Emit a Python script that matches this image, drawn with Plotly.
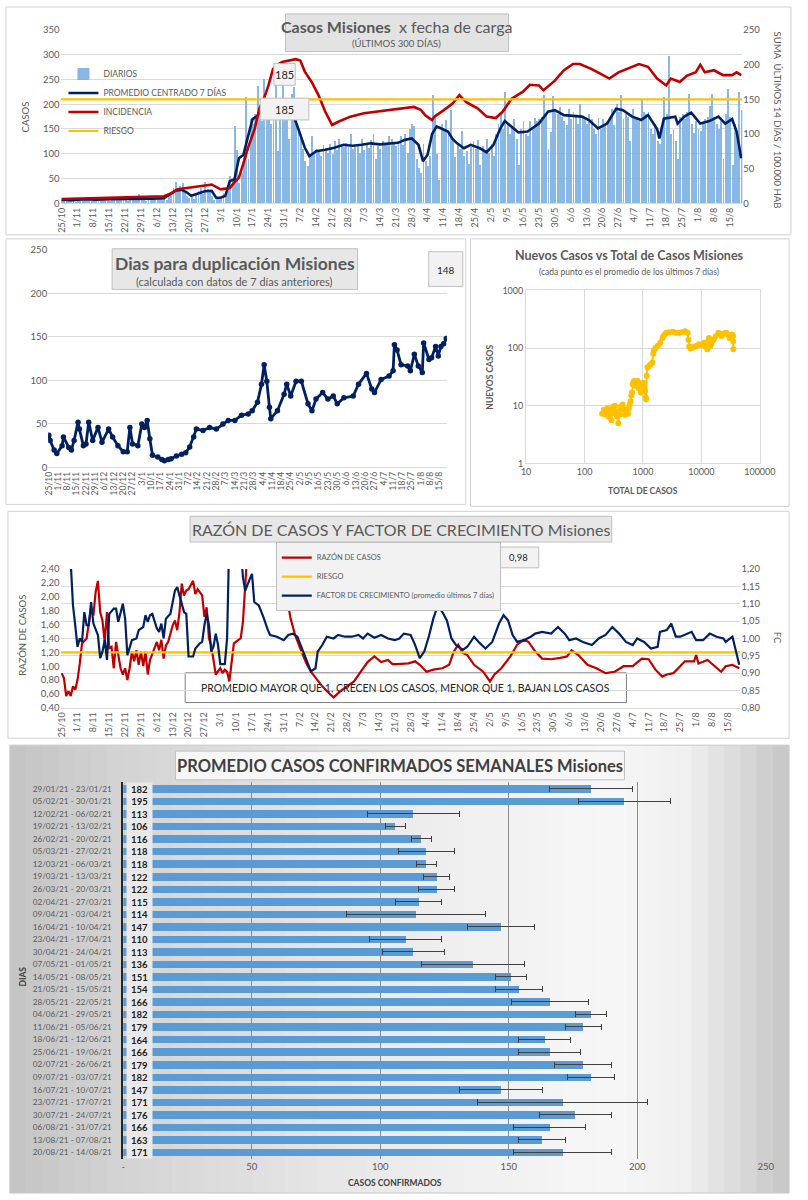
import plotly.graph_objects as go
import pandas as pd
import numpy as np

# ---------------- DATA ----------------
START = "2020-10-25"
N_DAYS = 300

# casos diarios (por día desde 25/10/2020)
diarios = [
    7, 9, 4, 6, 8, 5, 3,
    9, 11, 6, 8, 12, 7, 5,
    10, 6, 4, 9, 13, 8, 10,
    5, 7, 12, 9, 6, 8, 14,
    7, 5, 9, 11, 6, 8, 18,
    7, 9, 5, 10, 12, 8, 6,
    11, 9, 14, 10, 7, 18, 22,
    30, 42, 26, 35, 40, 20, 14,
    10, 12, 8, 20, 25, 30, 18,
    42, 28, 26, 15, 6, 10, 12,
    8, 20, 14, 30, 55, 45, 155,
    108, 40, 60, 100, 215, 90, 170,
    160, 180, 236, 190, 165, 250, 200,
    175, 160, 210, 245, 105, 179, 240,
    170, 200, 130, 220, 235, 170, 150,
    140, 110, 85, 75, 95, 136, 100,
    110, 105, 95, 118, 112, 102, 120,
    100, 125, 108, 130, 115, 114, 122,
    118, 140, 110, 115, 120, 101, 130,
    108, 118, 112, 128, 140, 90, 115,
    110, 125, 118, 122, 135, 129, 120,
    115, 125, 135, 118, 140, 101, 150,
    160, 155, 90, 70, 60, 120, 85,
    75, 95, 218, 178, 100, 47, 160,
    150, 168, 140, 188, 130, 93, 120,
    110, 146, 95, 105, 80, 114, 125,
    110, 128, 78, 115, 105, 130, 102,
    120, 95, 140, 160, 185, 150, 225,
    160, 140, 155, 170, 130, 77, 150,
    165, 140, 135, 165, 150, 173, 165,
    170, 175, 218, 180, 110, 144, 216,
    185, 180, 195, 175, 165, 158, 190,
    170, 185, 175, 160, 201, 172, 175,
    160, 180, 170, 150, 140, 173, 150,
    170, 155, 165, 175, 190, 157, 200,
    185, 218, 170, 180, 175, 125, 190,
    170, 175, 165, 208, 185, 181, 185,
    150, 140, 160, 125, 120, 149, 214,
    180, 298, 140, 150, 125, 90, 175,
    180, 170, 185, 221, 160, 141, 165,
    150, 145, 160, 170, 175, 197, 221,
    175, 160, 150, 165, 90, 180, 231,
    175, 78, 160, 140, 225, 188,
]

# promedio centrado 7 días (día, valor)
prom_dia = [0, 5, 10, 15, 20, 25, 30, 35, 40, 45, 48, 50, 53, 55, 57, 59, 61, 63, 66, 68,
            70, 72, 74, 76, 78, 80, 82, 84, 86, 88, 91, 94, 97, 100, 103, 105, 107, 109, 112, 116,
            120, 124, 128, 132, 136, 140, 144, 148, 151, 154, 157, 159, 161, 163, 165, 168, 170, 172, 174, 177,
            180, 184, 187, 190, 193, 195, 198, 201, 205, 210, 214, 217, 221, 225, 229, 232, 236, 240, 244, 247,
            251, 255, 258, 262, 263, 265, 270, 271, 274, 277, 281, 285, 289, 292, 295, 297, 299]
prom_val = [7, 6, 8, 7, 8, 8, 9, 8, 9, 10, 18, 25, 27, 22, 15, 18, 21, 24, 25, 11,
            11, 15, 45, 48, 91, 98, 135, 170, 176, 190, 188, 186, 190, 192, 165, 138, 112, 95, 105, 108,
            112, 118, 116, 118, 121, 119, 121, 122, 128, 131, 118, 85, 98, 140, 155, 148, 145, 130, 121, 111,
            118, 111, 103, 118, 151, 166, 155, 143, 145, 161, 185, 188, 178, 177, 175, 168, 151, 161, 191, 188,
            175, 168, 178, 150, 131, 171, 175, 161, 175, 183, 161, 166, 175, 161, 170, 145, 91]

# incidencia: suma últimos 14 días / 100.000 hab (eje derecho)
inc_dia = [0, 10, 20, 30, 40, 45, 48, 51, 55, 58, 61, 64, 66, 68, 70, 72, 74, 76, 78, 80,
           82, 85, 87, 89, 91, 93, 95, 97, 100, 103, 105, 107, 110, 113, 116, 119, 122, 127, 133, 138,
           144, 150, 155, 158, 160, 163, 164, 168, 172, 175, 178, 183, 187, 191, 194, 198, 203, 206, 210, 212,
           217, 221, 225, 228, 233, 237, 241, 245, 250, 254, 258, 262, 266, 268, 272, 275, 279, 281, 283, 287,
           291, 295, 297, 299]
inc_val = [6, 7, 8, 8, 9, 10, 14, 20, 22, 23, 25, 26, 27, 23, 20, 21, 22, 30, 37, 58,
           80, 108, 137, 151, 170, 194, 200, 204, 206, 208, 206, 190, 175, 156, 132, 113, 118, 125, 130, 132,
           134, 137, 139, 135, 127, 120, 125, 134, 144, 156, 146, 137, 125, 123, 132, 151, 161, 171, 170, 163,
           177, 192, 201, 201, 194, 187, 180, 189, 196, 201, 197, 180, 170, 180, 175, 184, 189, 200, 189, 192,
           185, 185, 189, 185]
RIESGO_INC = 150
PICO_LABELS = ["185", "185"]

# días para duplicación
dup_dia = [0, 1, 4, 6, 10, 11, 15, 17, 19, 22, 23, 26, 28, 30, 33, 37, 40, 45, 48, 52,
           56, 59, 61, 63, 67, 70, 72, 74, 76, 78, 82, 85, 87, 90, 92, 96, 100, 103, 106, 109,
           111, 116, 121, 126, 131, 135, 140, 145, 150, 153, 157, 160, 162, 164, 166, 167, 172, 177, 179, 182,
           186, 190, 195, 198, 201, 206, 210, 214, 217, 222, 229, 233, 239, 243, 245, 250, 256, 259, 260, 262,
           265, 270, 272, 275, 278, 281, 282, 286, 288, 291, 293, 295, 297, 299]
dup_val = [37, 31, 20, 16, 25, 35, 23, 20, 31, 52, 44, 25, 27, 52, 31, 46, 29, 44, 35, 25,
           18, 18, 46, 27, 25, 50, 46, 54, 33, 14, 12, 9, 7.6, 9, 10, 13, 15, 17, 23.5, 35,
           44, 42.5, 46, 44, 50, 54, 54, 60, 61.5, 65, 75, 95.6, 118, 99, 69, 56, 65, 84, 95.6, 82,
           99, 99, 73, 65, 78.5, 86, 78.5, 82, 73, 80, 82, 95.6, 108, 90, 86, 101, 105, 111, 141, 135,
           118, 116.5, 111, 130, 116.5, 109, 143, 124, 126, 139, 128, 139, 142, 148]
DUP_ULTIMO = "148"

# nuevos casos vs total de casos (promedio 7 días)
total_casos = [200, 215, 230, 245, 260, 275, 290, 300, 315, 330, 345, 360, 378, 395, 410, 430, 450, 470, 490, 510,
               530, 553, 570, 590, 615, 633, 650, 667, 690, 710, 740, 770, 810, 850, 880, 920, 960, 1000, 1043, 1080,
               1112, 1130, 1157, 1190, 1250, 1330, 1440, 1500, 1530, 1630, 1800, 1976, 2150, 2250, 2400, 2500, 2800, 3230, 3700, 4240,
               4700, 5180, 5500, 5810, 6000, 6200, 6500, 7060, 7600, 8300, 9170, 10000, 11000, 11800, 12600, 12900, 13500, 14100, 14800, 15500,
               16200, 17500, 19500, 20500, 22100, 23500, 25000, 26800, 28500, 30500, 32000, 33500, 34800, 35000, 35200]
nuevos_casos = [7.3, 8.5, 7, 9, 6.5, 8, 5.6, 9.5, 7.5, 10, 8, 6.5, 5, 7, 9.5, 8.5, 10.5, 8.8, 7, 7.5,
                8, 7.3, 9, 10.5, 12, 15, 17, 23.7, 26, 27, 25, 22, 27, 20, 24, 17, 22, 25, 23.7, 18,
                14, 13, 33, 46, 48, 52, 56, 80, 89, 100, 110, 124, 150, 162, 175, 184, 188, 192, 185, 184,
                190, 196, 190, 184, 140, 108, 98, 101, 105, 110, 116, 112, 124, 105, 95, 130, 150, 108, 120, 135,
                141, 160, 184, 175, 162, 175, 180, 184, 170, 150, 165, 172, 162, 130, 95]

# razón de casos (eje izq.)
razon_dia = [0, 1, 2, 3, 4, 5, 6, 7, 8, 9, 11, 12, 13, 14, 15, 16, 17, 18, 19, 20,
             21, 22, 23, 24, 25, 26, 27, 28, 29, 30, 31, 32, 33, 34, 35, 36, 37, 38, 39, 41,
             42, 43, 44, 45, 46, 47, 49, 50, 51, 52, 53, 54, 55, 56, 58, 59, 60, 62, 63, 64,
             65, 66, 67, 68, 70, 71, 72, 73, 74, 75, 76, 78, 79, 80, 81, 83, 86, 90, 95, 98,
             99, 100, 101, 103, 105, 108, 110, 113, 115, 118, 120, 123, 126, 129, 132, 135, 138, 141, 144, 146,
             148, 153, 156, 158, 161, 164, 168, 171, 173, 175, 177, 179, 182, 186, 189, 191, 194, 198, 201, 204,
             206, 209, 212, 216, 220, 223, 225, 228, 232, 236, 240, 244, 248, 252, 256, 259, 262, 265, 267, 270,
             275, 279, 280, 281, 285, 289, 291, 293, 296, 299]
razon_val = [0.90, 0.83, 0.57, 0.64, 0.57, 0.71, 0.66, 0.80, 1.04, 1.33, 1.40, 1.64, 1.85, 1.73, 2.07, 2.23, 1.78, 1.66, 1.35, 1.78,
             1.26, 1.28, 0.97, 1.35, 1.16, 0.97, 0.88, 0.97, 0.80, 0.97, 1.21, 1.07, 1.23, 1.02, 1.21, 1.00, 1.21, 0.88, 1.09, 1.28,
             1.35, 1.23, 1.38, 1.11, 1.30, 1.35, 1.59, 1.66, 1.52, 1.78, 2.19, 2.02, 2.09, 2.11, 2.23, 2.04, 2.11, 2.02, 1.71, 1.85,
             1.40, 1.30, 1.11, 0.88, 0.97, 0.90, 0.95, 0.92, 0.78, 1.11, 1.33, 1.38, 1.40, 1.64, 2.60, 3.20, 3.50, 3.40, 3.10, 2.70,
             2.40, 1.88, 1.69, 1.45, 1.28, 1.04, 0.92, 0.80, 0.71, 0.61, 0.55, 0.64, 0.71, 0.78, 0.92, 1.06, 1.14, 1.06, 1.09, 1.03,
             1.03, 1.04, 1.07, 1.02, 0.92, 0.95, 0.97, 1.02, 1.21, 1.31, 1.19, 1.16, 1.02, 0.92, 0.78, 0.88, 0.97, 1.14, 1.31, 1.38,
             1.35, 1.21, 1.11, 1.10, 1.12, 1.14, 1.23, 1.16, 1.02, 0.97, 0.90, 0.92, 1.00, 1.00, 1.11, 1.10, 0.95, 0.85, 0.88, 0.90,
             1.07, 1.07, 1.16, 1.04, 1.09, 0.97, 0.92, 1.00, 1.02, 0.97]
RIESGO_RAZON = 1.2

# factor de crecimiento (eje der.)
fc_dia = [0, 2, 4, 5, 6, 7, 8, 9, 10, 11, 12, 13, 14, 16, 17, 18, 19, 20, 21, 23,
          24, 25, 27, 28, 29, 30, 31, 33, 34, 36, 37, 38, 39, 40, 42, 43, 44, 45, 46, 48,
          49, 50, 51, 53, 54, 55, 56, 58, 59, 61, 62, 63, 64, 65, 66, 67, 68, 69, 70, 72,
          73, 74, 76, 78, 79, 80, 81, 82, 83, 84, 85, 87, 88, 89, 91, 92, 95, 98, 100, 102,
          104, 106, 108, 110, 112, 113, 115, 117, 120, 122, 125, 128, 131, 133, 135, 138, 141, 144, 147, 149,
          151, 154, 156, 158, 160, 162, 164, 166, 168, 170, 172, 174, 177, 179, 182, 184, 187, 190, 193, 195,
          197, 199, 201, 204, 207, 209, 212, 216, 219, 222, 224, 227, 230, 234, 237, 240, 243, 246, 249, 252,
          254, 257, 260, 263, 264, 267, 269, 271, 273, 276, 278, 280, 283, 286, 289, 292, 293, 296, 299]
fc_val = [1.45, 1.38, 1.22, 1.095, 1.038, 0.976, 1.0, 0.99, 1.076, 1.038, 1.038, 1.105, 1.043, 1.01, 0.943, 0.962, 0.995, 0.938, 1.071, 1.086,
          1.086, 1.048, 1.1, 1.057, 0.952, 0.971, 0.995, 1.0, 1.024, 1.033, 1.067, 1.048, 1.067, 1.071, 1.029, 1.019, 1.043, 1.0, 1.057, 1.071,
          1.105, 1.138, 1.148, 1.105, 1.076, 1.071, 0.948, 0.948, 0.971, 0.986, 0.99, 1.038, 1.071, 1.038, 0.962, 0.976, 1.014, 0.981, 0.926, 0.926,
          1.0, 1.3, 1.4, 1.35, 1.25, 1.176, 1.138, 1.152, 1.171, 1.186, 1.105, 1.095, 1.081, 1.062, 1.024, 1.01, 1.005, 0.995, 1.01, 1.014,
          1.005, 0.971, 0.933, 0.905, 0.914, 0.962, 0.981, 1.005, 1.0, 1.01, 1.005, 1.005, 1.01, 1.0, 1.014, 1.002, 1.01, 1.0, 0.995, 1.0,
          1.014, 1.01, 0.981, 0.943, 0.962, 1.005, 1.057, 1.095, 1.076, 1.052, 1.0, 0.981, 0.967, 0.976, 1.005, 0.99, 0.971, 0.99, 1.043, 1.067,
          1.052, 1.01, 0.99, 0.995, 1.005, 1.014, 1.019, 1.014, 1.033, 1.014, 0.995, 1.0, 0.99, 0.981, 1.0, 1.01, 1.033, 1.014, 0.99, 0.981,
          1.0, 0.99, 0.971, 0.976, 1.019, 1.024, 1.043, 1.005, 1.005, 1.014, 1.019, 0.995, 0.995, 1.014, 1.005, 1.0, 0.99, 1.005, 0.924]
FC_ULTIMO = "0,98"

# promedio semanal de casos confirmados
semanas = ["29/01/21 - 23/01/21", "05/02/21 - 30/01/21", "12/02/21 - 06/02/21", "19/02/21 - 13/02/21",
           "26/02/21 - 20/02/21", "05/03/21 - 27/02/21", "12/03/21 - 06/03/21", "19/03/21 - 13/03/21",
           "26/03/21 - 20/03/21", "02/04/21 - 27/03/21", "09/04/21 - 03/04/21", "16/04/21 - 10/04/21",
           "23/04/21 - 17/04/21", "30/04/21 - 24/04/21", "07/05/21 - 01/05/21", "14/05/21 - 08/05/21",
           "21/05/21 - 15/05/21", "28/05/21 - 22/05/21", "04/06/21 - 29/05/21", "11/06/21 - 05/06/21",
           "18/06/21 - 12/06/21", "25/06/21 - 19/06/21", "02/07/21 - 26/06/21", "09/07/21 - 03/07/21",
           "16/07/21 - 10/07/21", "23/07/21 - 17/07/21", "30/07/21 - 24/07/21", "06/08/21 - 31/07/21",
           "13/08/21 - 07/08/21", "20/08/21 - 14/08/21"]
prom_sem = [182, 195, 113, 106, 116, 118, 118, 122, 122, 115, 114, 147, 110, 113, 136,
            151, 154, 166, 182, 179, 164, 166, 179, 182, 147, 171, 176, 166, 163, 171]
err_sem = [16, 18, 18, 4, 4, 11, 4, 5, 7, 9, 27, 13, 14, 12, 20,
           6, 9, 15, 6, 7, 10, 12, 11, 9, 16, 33, 14, 14, 9, 19]
ticks_sem_val = [0, 50, 100, 150, 200, 250]
ticks_sem_txt = ["-", "50", "100", "150", "200", "250"]

# ---------------- HELPERS ----------------
W, H = 808, 1200
FONT = "Lato"
GRAY = "#595959"
NAVY = "#002060"
RED = "#C00000"
YEL = "#FFC000"
BLUE = "#5B9BD5"
BAR_LIGHT = "#74ACDE"


def PX(x):
    return x / W


def PY(y):
    return 1 - y / H


fechas = pd.date_range(START, periods=N_DAYS, freq="D")
day = pd.Timedelta(days=1)


def to_dates(ds):
    return [fechas[0] + pd.Timedelta(days=d) for d in ds]


date_range_full = [fechas[0] - 0.5 * day, fechas[-1] + 0.5 * day]

fig = go.Figure()

# ----- Panel 1 -----
fig.add_trace(go.Bar(x=fechas, y=diarios, name="DIARIOS", marker=dict(color=BAR_LIGHT, line=dict(width=0)),
                     width=0.38 * 86400000, opacity=0.85, xaxis="x", yaxis="y", legend="legend"))
fig.add_trace(go.Scatter(x=to_dates(prom_dia), y=prom_val, name="PROMEDIO CENTRADO 7 DÍAS", mode="lines",
                         line=dict(color=NAVY, width=2.6), xaxis="x", yaxis="y", legend="legend"))
fig.add_trace(go.Scatter(x=to_dates(inc_dia), y=inc_val, name="INCIDENCIA", mode="lines",
                         line=dict(color=RED, width=2.6), xaxis="x", yaxis="y2", legend="legend"))
fig.add_trace(go.Scatter(x=[fechas[0] - 0.5 * day, fechas[-1] + 0.5 * day], y=[RIESGO_INC, RIESGO_INC],
                         name="RIESGO", mode="lines", line=dict(color=YEL, width=2.2),
                         xaxis="x", yaxis="y2", legend="legend"))

# ----- Panel 2 left -----
fig.add_trace(go.Scatter(x=to_dates(dup_dia), y=dup_val, mode="lines+markers", showlegend=False,
                         line=dict(color=NAVY, width=2.8), marker=dict(color=NAVY, size=5.5),
                         xaxis="x2", yaxis="y3"))

# ----- Panel 2 right -----
fig.add_trace(go.Scatter(x=total_casos, y=nuevos_casos, mode="lines+markers", showlegend=False,
                         line=dict(color=YEL, width=2), marker=dict(color=YEL, size=6),
                         xaxis="x3", yaxis="y4"))

# ----- Panel 3 -----
fig.add_trace(go.Scatter(x=to_dates(razon_dia), y=razon_val, name="RAZÓN DE CASOS", mode="lines",
                         line=dict(color=RED, width=2.2), xaxis="x4", yaxis="y5", legend="legend2"))
fig.add_trace(go.Scatter(x=[fechas[0] - 0.5 * day, fechas[-1] + 0.5 * day], y=[RIESGO_RAZON, RIESGO_RAZON],
                         name="RIESGO", mode="lines", line=dict(color=YEL, width=2.2),
                         xaxis="x4", yaxis="y5", legend="legend2"))
fig.add_trace(go.Scatter(x=to_dates(fc_dia), y=fc_val, name="FACTOR DE CRECIMIENTO (promedio últimos 7 días)",
                         mode="lines", line=dict(color=NAVY, width=2.2), xaxis="x4", yaxis="y6", legend="legend2"))

# ----- Panel 4 -----
fig.add_trace(go.Bar(x=prom_sem, y=semanas, orientation="h", showlegend=False,
                     marker=dict(color=BLUE, line=dict(width=0)), width=0.6,
                     error_x=dict(type="data", array=err_sem, color="#404040", thickness=1, width=3),
                     xaxis="x5", yaxis="y7"))

tickf = dict(family=FONT, size=9, color=GRAY)

layout = dict(
    width=W, height=H, margin=dict(l=0, r=0, t=0, b=0), autosize=False,
    paper_bgcolor="white", plot_bgcolor="rgba(0,0,0,0)",
    font=dict(family=FONT, color=GRAY), separators=",.",
    bargap=0,
    # panel 1
    xaxis=dict(type="date", domain=[PX(57), PX(757)], range=date_range_full, anchor="y",
               tickformat="%-d/%-m", tick0=START, dtick=7 * 86400000, tickangle=-90,
               tickfont=tickf, showgrid=False, showline=True, linecolor="#d9d9d9", ticks=""),
    yaxis=dict(domain=[PY(199), PY(24.3)], range=[0, 350], dtick=50, gridcolor="#d9d9d9",
               tickfont=dict(family=FONT, size=9.5, color=GRAY), zeroline=False, anchor="x"),
    yaxis2=dict(overlaying="y", side="right", range=[0, 250], dtick=50, showgrid=False,
                tickfont=dict(family=FONT, size=9.5, color=GRAY), zeroline=False, anchor="x"),
    # panel 2 left
    xaxis2=dict(type="date", domain=[PX(44.3), PX(453.7)], range=date_range_full, anchor="y3",
                tickformat="%-d/%-m", tick0=START, dtick=7 * 86400000, tickangle=-90,
                tickfont=dict(family=FONT, size=8.5, color=GRAY), showgrid=False, showline=True,
                linecolor="#d9d9d9", ticks=""),
    yaxis3=dict(domain=[PY(465.7), PY(246)], range=[0, 250], dtick=50, gridcolor="#d9d9d9",
                tickfont=dict(family=FONT, size=9.5, color=GRAY), zeroline=False, anchor="x2"),
    # panel 2 right
    xaxis3=dict(type="log", domain=[PX(535), PX(775)], range=[1, 5], dtick=1, tickformat="d",
                anchor="y4", gridcolor="#d9d9d9", showline=True, mirror=True, linecolor="#d9d9d9",
                tickfont=dict(family=FONT, size=9, color=GRAY), ticks=""),
    yaxis4=dict(type="log", domain=[PY(461.7), PY(287)], range=[0, 3], dtick=1, tickformat="d",
                anchor="x3", gridcolor="#d9d9d9", showline=True, mirror=True, linecolor="#d9d9d9",
                tickfont=dict(family=FONT, size=9, color=GRAY), ticks=""),
    # panel 3
    xaxis4=dict(type="date", domain=[PX(57), PX(755)], range=date_range_full, anchor="y5",
                tickformat="%-d/%-m", tick0=START, dtick=7 * 86400000, tickangle=-90,
                tickfont=tickf, showgrid=False, showline=True, linecolor="#d9d9d9", ticks=""),
    yaxis5=dict(domain=[PY(708.3), PY(568.3)], range=[0.4, 2.4], dtick=0.2, tickformat=".2f",
                showgrid=False, zeroline=False, anchor="x4",
                tickfont=dict(family=FONT, size=9.5, color=GRAY)),
    yaxis6=dict(overlaying="y5", side="right", range=[0.8, 1.2], dtick=0.05, tickformat=".2f",
                gridcolor="#d9d9d9", zeroline=False, anchor="x4",
                tickfont=dict(family=FONT, size=9.5, color=GRAY)),
    # panel 4
    xaxis5=dict(domain=[PX(121.3), PX(781)], range=[0, 250], anchor="y7", tickvals=ticks_sem_val,
                ticktext=ticks_sem_txt, gridcolor="#8c8c8c", gridwidth=1, zeroline=False,
                tickfont=dict(family=FONT, size=9.5, color=GRAY), ticks=""),
    yaxis7=dict(domain=[PY(1164), PY(783)], autorange="reversed", type="category", anchor="x5",
                showline=True, linecolor="#262626", linewidth=1.6, ticks="", ticklabelstandoff=8,
                tickfont=dict(family=FONT, size=8.2, color=GRAY)),
    legend=dict(x=PX(60), y=PY(54), xanchor="left", yanchor="top", bgcolor="rgba(0,0,0,0)",
                font=dict(family=FONT, size=8.5, color=GRAY), itemwidth=30, tracegroupgap=0,
                traceorder="normal"),
    legend2=dict(x=PX(278), y=PY(541), xanchor="left", yanchor="top", bgcolor="#f2f2f2",
                 bordercolor="#bfbfbf", borderwidth=1, font=dict(family=FONT, size=7.5, color=GRAY),
                 itemwidth=30, tracegroupgap=0, traceorder="normal"),
)

shapes = []


def rect(x0, y0, x1, y1, fill, line="#bfbfbf", layer="above", lw=1):
    shapes.append(dict(type="rect", xref="paper", yref="paper", x0=PX(x0), x1=PX(x1),
                       y0=PY(y1), y1=PY(y0), fillcolor=fill, line=dict(color=line, width=lw), layer=layer))


# panel 4 gradient background
gx = [5, 120, 400, 620, 700, 805]
gg = [196, 212, 236, 247, 240, 198]
nst = 48
for i in range(nst):
    x0 = 5 + i * 800 / nst
    x1 = min(x0 + 800 / nst + 0.6, 805)
    g = int(np.interp((x0 + x1) / 2, gx, gg))
    rect(x0, 746, x1, 1198, f"rgb({g},{g},{g})", "rgba(0,0,0,0)", "below", 0)

# panel borders
rect(1, 1, 807, 231, "rgba(0,0,0,0)", "#d0d0d0", "below")
rect(1, 235, 473, 503, "rgba(0,0,0,0)", "#d0d0d0", "below")
rect(478, 235, 805, 505, "rgba(0,0,0,0)", "#d0d0d0", "below")
rect(3, 510, 805, 739, "rgba(0,0,0,0)", "#d0d0d0", "below")
rect(5, 746, 805, 1198, "rgba(0,0,0,0)", "#c8c8c8", "below")

# title / label boxes
rect(288, 8, 517, 46, "#e3e3e3", "#bfbfbf")
rect(276, 58, 298, 80, "#f2f2f2", "#bfbfbf")
rect(262, 93, 312, 115, "#f2f2f2", "#bfbfbf")
rect(110, 245, 362, 286, "#e7e7e7", "#bfbfbf")
rect(435, 248, 470, 283, "#f2f2f2", "#bfbfbf")
rect(190, 515, 623, 541, "#e7e7e7", "#bfbfbf")
rect(506, 546, 548, 567, "#f2f2f2", "#bfbfbf")
rect(185, 673, 638, 703, "white", "#7f7f7f", "between")
rect(175, 752, 636, 781, "#f7f7f7", "#bfbfbf")

annotations = []


def ann(x, y, text, size, color=GRAY, angle=0, **kw):
    d = dict(xref="paper", yref="paper", x=PX(x), y=PY(y), text=text, showarrow=False,
             font=dict(family=FONT, size=size, color=color), textangle=angle,
             xanchor="center", yanchor="middle")
    d.update(kw)
    annotations.append(d)


# panel 1 texts
ann(402, 21, "<b>Casos Misiones</b>  x fecha de carga", 16, "#595959")
ann(402, 38, "(ÚLTIMOS 300 DÍAS)", 9.5, "#595959")
ann(287, 69, PICO_LABELS[0], 11, "#262626")
ann(287, 104, PICO_LABELS[1], 11, "#262626")
ann(22, 112, "CASOS", 9.5, GRAY, -90)
ann(793, 115, "SUMA  ÚLTIMOS 14 DÍAS / 100.000 HAB", 9.5, GRAY, 90)

# panel 2 left texts
ann(236, 260, "<b>Dias para duplicación Misiones</b>", 17.5, "#595959")
ann(236, 278, "(calculada con datos de 7 días anteriores)", 11, "#595959")
ann(452.5, 266, DUP_ULTIMO, 10, "#262626")

# panel 2 right texts
ann(641, 252, "<b>Nuevos Casos vs Total de Casos Misiones</b>", 12.5, "#595959")
ann(641, 268, "(cada punto es el promedio de los últimos 7 días)", 8.5, "#595959")
ann(497, 375, "<b>NUEVOS CASOS</b>", 8.5, GRAY, -90)
ann(655, 489, "<b>TOTAL DE CASOS</b>", 8.5, GRAY)

# panel 3 texts
ann(406.5, 528, "RAZÓN DE CASOS Y FACTOR DE CRECIMIENTO Misiones", 16, "#595959")
ann(527, 556.5, FC_ULTIMO, 9.5, "#262626")
ann(18, 635, "RAZÓN DE CASOS", 9.5, GRAY, -90)
ann(793, 638, "FC", 9.5, GRAY, 90)
ann(411.5, 688, "PROMEDIO MAYOR QUE 1, CRECEN LOS CASOS, MENOR QUE 1, BAJAN LOS CASOS", 10.5, "#262626")

# panel 4 texts
ann(405.5, 767, "<b>PROMEDIO CASOS CONFIRMADOS SEMANALES Misiones</b>", 16.5, "#404040")
ann(18, 980, "<b>DIAS</b>", 8.5, "#404040", -90)
ann(400, 1188, "<b>CASOS CONFIRMADOS</b>", 8.5, "#404040")
for s, v in zip(semanas, prom_sem):
    annotations.append(dict(xref="x5", yref="y7", x=6.3, y=s, text=f"<b>{v}</b>", showarrow=False,
                            font=dict(family=FONT, size=9.5, color="#1a1a1a"), bgcolor="#e9e9e9",
                            width=23, height=10, xanchor="center", yanchor="middle"))

layout["shapes"] = shapes
layout["annotations"] = annotations
fig.update_layout(**layout)

fig.write_html("out.html", config={"displayModeBar": False},
               post_script="document.body.style.margin='0px';document.body.style.overflow='hidden';"
                           "document.documentElement.style.overflow='hidden';")
